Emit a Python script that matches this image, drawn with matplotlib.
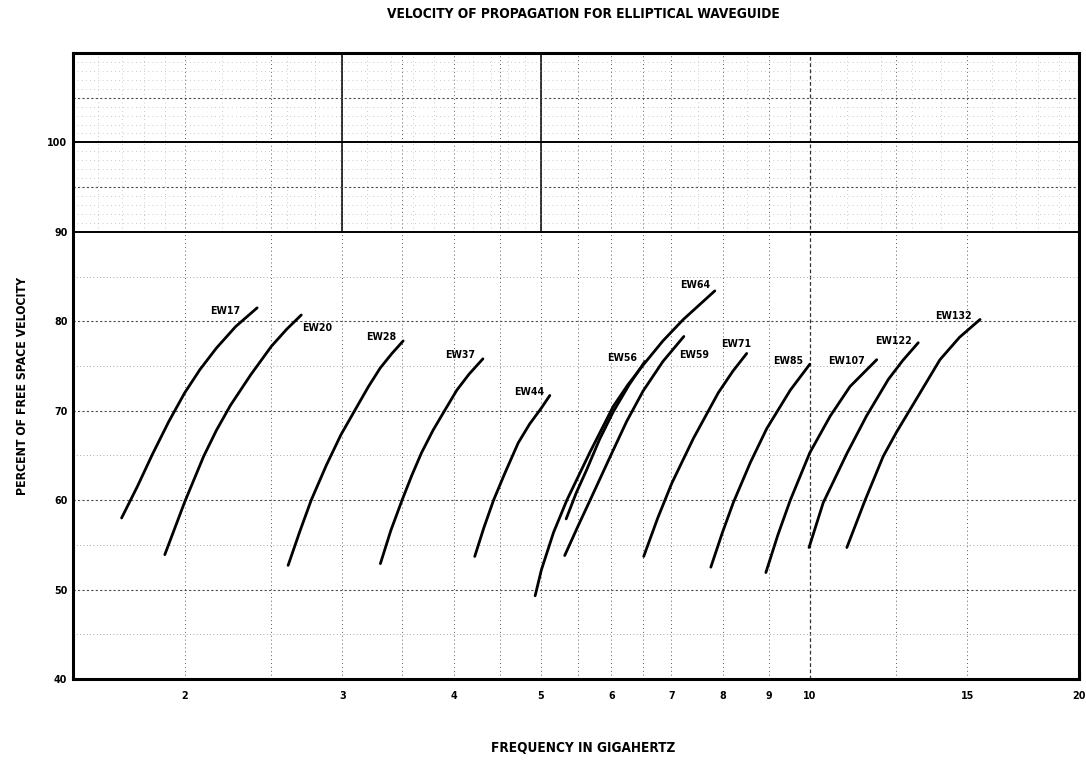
import matplotlib.pyplot as plt

plt.rcParams['font.family'] = ['DejaVu Sans']
plt.rcParams['font.weight'] = 'bold'
plt.rcParams['font.stretch'] = 'condensed'

# waveguide curves (GHz, percent of free space velocity)
names = ['EW17', 'EW20', 'EW28', 'EW37', 'EW44', 'EW56', 'EW64',
         'EW59', 'EW71', 'EW85', 'EW107', 'EW122', 'EW132']
freq = [
    [1.70, 1.77, 1.84, 1.92, 2.00, 2.08, 2.17, 2.28, 2.41],
    [1.90, 2.00, 2.10, 2.17, 2.25, 2.37, 2.50, 2.60, 2.70],
    [2.61, 2.69, 2.77, 2.88, 2.99, 3.11, 3.21, 3.31, 3.41, 3.51],
    [3.31, 3.40, 3.50, 3.59, 3.68, 3.79, 3.91, 4.03, 4.16, 4.31],
    [4.22, 4.32, 4.43, 4.56, 4.72, 4.86, 5.01, 5.12],
    [5.34, 5.48, 5.63, 5.82, 6.03, 6.28, 6.54],
    [4.93, 5.01, 5.17, 5.35, 5.68, 6.03, 6.26, 6.51, 6.85, 7.22, 7.83],
    [5.32, 5.50, 5.68, 5.99, 6.24, 6.51, 6.85, 7.23],
    [6.52, 6.76, 7.01, 7.41, 7.90, 8.20, 8.50],
    [7.75, 7.98, 8.21, 8.58, 8.95, 9.51, 10.0],
    [8.93, 9.21, 9.51, 10.0, 10.54, 11.09, 11.88],
    [9.98, 10.35, 11.0, 11.57, 12.24, 12.70, 13.22],
    [11.0, 11.53, 12.08, 12.50, 12.94, 13.98, 14.70, 15.5],
]
vel = [
    [58.0, 61.5, 65.1, 68.8, 72.0, 74.6, 77.0, 79.4, 81.5],
    [53.9, 59.8, 64.9, 67.8, 70.6, 74.0, 77.2, 79.1, 80.7],
    [52.7, 56.5, 60.0, 63.9, 67.3, 70.3, 72.7, 74.8, 76.4, 77.8],
    [52.9, 56.6, 60.0, 62.8, 65.3, 67.8, 70.1, 72.3, 74.1, 75.8],
    [53.7, 56.9, 60.0, 63.0, 66.4, 68.5, 70.3, 71.7],
    [57.9, 60.8, 63.4, 66.8, 69.9, 72.9, 75.5],
    [49.3, 52.2, 56.4, 60.0, 65.4, 70.5, 72.9, 75.1, 77.8, 80.2, 83.4],
    [53.8, 57.0, 60.0, 65.0, 68.8, 72.2, 75.5, 78.3],
    [53.7, 58.0, 61.9, 66.9, 72.0, 74.4, 76.4],
    [52.5, 56.3, 59.7, 64.2, 68.0, 72.3, 75.2],
    [51.9, 56.1, 60.0, 65.3, 69.4, 72.7, 75.7],
    [54.7, 59.7, 65.2, 69.4, 73.5, 75.6, 77.6],
    [54.7, 60.0, 64.9, 67.6, 70.1, 75.7, 78.2, 80.2],
]
# label centres
lab_x = [2.22, 2.81, 3.32, 4.06, 4.86, 6.16, 7.44, 7.42, 8.28, 9.46, 10.98, 12.40, 14.47]
lab_y = [81.1, 79.2, 78.2, 76.2, 72.1, 75.9, 84.0, 76.2, 77.5, 75.6, 75.6, 77.8, 80.6]

xticks = [2, 3, 4, 5, 6, 7, 8, 9, 10, 15, 20]
yticks = [40, 50, 60, 70, 80, 90, 100]

fig = plt.figure(figsize=(10.86, 7.61), dpi=100)
ax = fig.add_axes([0.0672, 0.1078, 0.9264, 0.8226])
ax.set_xscale('log')
ax.set_xlim(1.5, 20)
ax.set_ylim(40, 110)

# graph paper grid
top = (90 - 40) / 70.0
for v in [1.6, 1.7, 1.8, 1.9, 2.2, 2.4, 2.6, 2.8, 3.2, 3.4, 3.6, 3.8,
          4.2, 4.4, 4.6, 4.8, 7.5, 8.5, 9.5, 11, 12, 13, 14, 16, 17, 18, 19]:
    ax.axvline(v, ymin=top, color='0.6', lw=0.5, ls=(0, (1, 5)))
for v in [2, 2.5, 3.5, 4, 4.5, 5.5, 6, 6.5, 7, 8, 9, 12.5, 15]:
    ax.axvline(v, color='0.35', lw=0.7, ls=(0, (1, 3)))
for v in [3, 5]:
    ax.axvline(v, color='0.35', lw=0.7, ls=(0, (1, 3)))
    ax.axvline(v, ymin=top, color='black', lw=1.1)
ax.axvline(10, color='0.2', lw=0.9, ls=(0, (3, 2)))
for h in range(91, 110):
    if h % 5:
        ax.axhline(h, color='0.6', lw=0.5, ls=(0, (1, 5)))
for h in [45, 55, 65, 75, 85]:
    ax.axhline(h, color='0.55', lw=0.6, ls=(0, (1, 3)))
for h in [50, 60, 70, 80, 95, 105]:
    ax.axhline(h, color='0.3', lw=0.8, ls=(0, (2, 2)))
for h in [90, 100]:
    ax.axhline(h, color='black', lw=1.4)

labels = []
for i in range(len(names)):
    ax.plot(freq[i], vel[i], color='black', lw=2.0, solid_capstyle='round')
    labels.append(ax.text(lab_x[i], lab_y[i], names[i], fontsize=8,
                          ha='center', va='center'))

ax.set_xticks(xticks)
ax.set_xticklabels([str(t) for t in xticks])
ax.minorticks_off()
ax.set_yticks(yticks)
ax.tick_params(length=0, labelsize=8)
ax.tick_params(axis='x', pad=9)
ax.tick_params(axis='y', pad=4)
for s in ax.spines.values():
    s.set_linewidth(2.2)

t1 = fig.text(0.537, 0.981, 'VELOCITY OF PROPAGATION FOR ELLIPTICAL WAVEGUIDE',
              ha='center', va='center', fontsize=9)
t2 = fig.text(0.537, 0.017, 'FREQUENCY IN GIGAHERTZ', ha='center', va='center', fontsize=9)
t3 = fig.text(0.021, 0.493, 'PERCENT OF FREE SPACE VELOCITY', ha='center', va='center',
              rotation=90, fontsize=9)

# size the texts to the widths they take in the original
fig.canvas.draw()
r = fig.canvas.get_renderer()
for t, target, vert in [(t1, 391, False), (t2, 183, False), (t3, 218, True)]:
    bb = t.get_window_extent(r)
    w = bb.height if vert else bb.width
    t.set_fontsize(t.get_fontsize() * target / w)

k = 30.0 / labels[0].get_window_extent(r).width
for t in labels:
    t.set_fontsize(t.get_fontsize() * k)

ytl = [t for t in ax.get_yticklabels() if t.get_text() == '100'][0]
k = 20.0 / ytl.get_window_extent(r).width
ax.tick_params(labelsize=8 * k)

fig.savefig('out.png', dpi=100)
